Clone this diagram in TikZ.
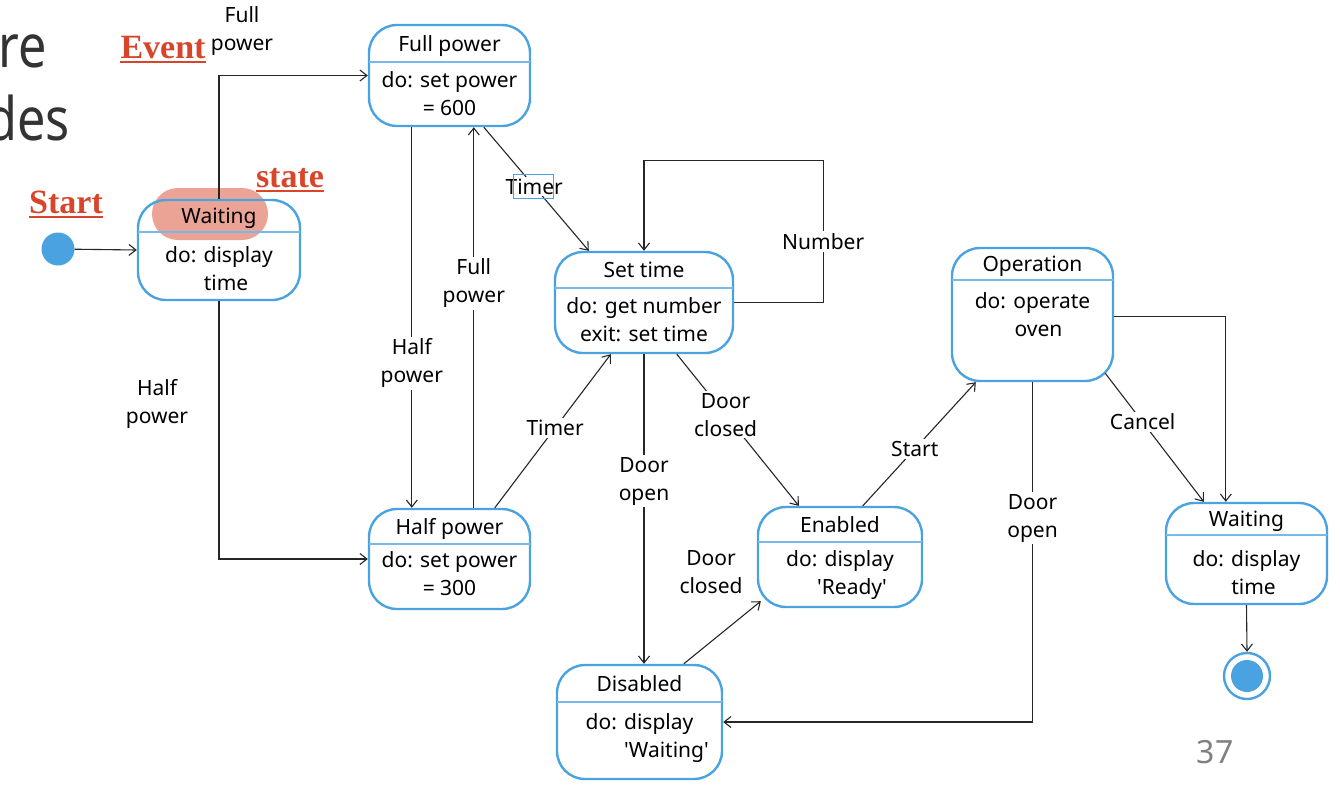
\documentclass[tikz,border=0pt]{standalone}
\usepackage{fontspec}
\setmainfont{Noto Sans}
\newfontfamily\serifb{Liberation Serif}
\newfontfamily\slidefont{Noto Sans}[FakeStretch=0.84]
\usetikzlibrary{arrows.meta}
\definecolor{sblue}{HTML}{4AA3E0}
\definecolor{sred}{HTML}{D9452B}
\definecolor{hl}{HTML}{EBA396}
\newcommand\umlstate[9]{%
 \node[sbox, minimum width={(#4-#2)*1pt}, minimum height={(#5-#3)*1pt}] (#1) at ({(#2+#4)/2},{(#3+#5)/2}) {};
 \draw[sdiv] (#2,#6) -- (#4,#6);
 \node[ttl] (#1t) at ({(#2+#4)/2},{(#3+#6)/2}) {#7};
 \node[body] (#1b) at ({(#2+#4)/2},#8) {#9};
}
\begin{document}
\begin{tikzpicture}[x=1pt,y=-1pt,
  every node/.style={font=\fontsize{21}{28}\selectfont, inner sep=0pt},
  sbox/.style={draw=sblue, line width=2.4pt, rounded corners=28pt, fill=none},
  sdiv/.style={draw=sblue!75, line width=1.4pt},
  ttl/.style={text height=19pt, text depth=4pt},
  body/.style={align=center},
  conn/.style={draw=black!85, line width=1.1pt, -{Straight Barb[length=7pt,width=11pt]}},
  lbl/.style={fill=white, align=center, inner sep=2pt},
  redlbl/.style={font=\serifb\bfseries\fontsize{34}{34}\selectfont, text=sred, anchor=base},
  redline/.style={draw=sred, line width=2.4pt},
  slide/.style={font=\slidefont\fontsize{60}{60}\selectfont, text=black!80, anchor=base east}]
\useasboundingbox (0,0) rectangle (1340,788);
% slide text
\node[slide] (sre) at (47,67) {re};
\node[slide] (sdes) at (70,140) {des};
\node[font=\fontsize{32}{32}\selectfont, text=black!50] (pnum) at (1215,752) {37};
% highlight
\fill[hl, rounded corners=26pt] (152,188) rectangle (268,240);
% states
\umlstate{wa}{138}{200}{300}{300}{232}{Waiting}{269}{do: display\\\hspace*{14pt}time}
\umlstate{fp}{369}{25}{530}{126}{62}{Full power}{94}{do: set power\\= 600}
\umlstate{st}{555}{252}{733}{353}{288}{Set time}{320}{do: get number\\exit: set time}
\umlstate{hp}{369}{509}{530}{609}{544}{Half power}{574}{do: set power\\= 300}
\umlstate{op}{952}{248}{1113}{381}{280}{Operation}{315}{do: operate\\\hspace*{12pt}oven}
\umlstate{en}{758}{507}{922}{607}{542}{Enabled}{575}{do: display\\\hspace*{24pt}\textquotesingle Ready\textquotesingle}
\umlstate{di}{557}{665}{722}{779}{702}{Disabled}{738}{do: display\\\hspace*{54pt}\textquotesingle Waiting\textquotesingle}
\umlstate{wb}{1166}{503}{1327}{604}{535}{Waiting}{573}{do: display\\\hspace*{14pt}time}
% start and end
\node[circle, fill=sblue, minimum size=33pt] (start) at (58,249) {};
\node[circle, draw=sblue, line width=2.4pt, minimum size=46pt] (end) at (1247,676) {};
\node[circle, fill=sblue, minimum size=32pt] (endin) at (end.center) {};
% connectors
\draw[conn] (start) -- (wa.west);
\draw[conn] (wa.north) |- (fp.west);
\node[align=center] (lfp1) at (242,31) {Full\\power};
\draw[conn] (wa.south) |- (hp.west);
\node[align=center] (lhp1) at (157,404) {Half\\power};
\draw[conn] ([xshift=44pt]fp.south west) -- node[lbl,pos=0.62] (lhp2) {Half\\power} ([xshift=44pt]hp.north west);
\draw[conn] ([xshift=106pt]hp.north west) -- node[lbl,pos=0.59] (lfp2) {Full\\power} ([xshift=106pt]fp.south west);
\draw[conn] ([xshift=116pt]fp.south west) -- node[lbl,pos=0.48] (ltm1) {Timer} ([xshift=35pt]st.north west);
\draw[sblue, line width=1pt] ([xshift=-21pt,yshift=12pt]ltm1.center) rectangle ([xshift=19pt,yshift=-12pt]ltm1.center);
\draw[conn] ([xshift=127pt]hp.north west) -- node[lbl,pos=0.52] (ltm2) {Timer} ([xshift=57pt]st.south west);
\draw[conn] (st.east) -- ++(89,0) -- node[lbl,pos=0.43] (lnum) {Number} ++(0,-142) -| (st.north);
\draw[conn] (st.south) -- node[lbl,pos=0.41] (ldo1) {Door\\open} (st.south |- di.north);
\draw[conn] ([xshift=123pt]st.south west) -- node[lbl,pos=0.4] (ldc1) {Door\\closed} ([xshift=42pt]en.north west);
\draw[conn] ([xshift=128pt]di.north west) -- ([xshift=4pt,yshift=7pt]en.south west);
\node[align=center] (ldc2) at (711,572) {Door\\closed};
\draw[conn] ([xshift=106pt]en.north west) -- node[lbl,pos=0.46] (lsta) {Start} ([xshift=25pt]op.south west);
\draw[conn] (op.south) |- node[lbl,pos=0.2] (ldo2) {Door\\open} (di.east);
\draw[conn] ([xshift=-9pt,yshift=9pt]op.south east) -- node[lbl,pos=0.38] (lcan) {Cancel} ([xshift=39pt]wb.north west);
\draw[conn] ([yshift=-2pt]op.east) -| ([xshift=61pt]wb.north west);
\draw[conn] (wb.south) -- (end.north);
% red annotations
\node[redlbl] (rev) at (163,58) {Event};
\draw[redline] ([yshift=-4pt]rev.base west) -- ([yshift=-4pt]rev.base east);
\node[redlbl] (rst) at (66,213) {Start};
\draw[redline] ([yshift=-4pt]rst.base west) -- ([yshift=-4pt]rst.base east);
\node[redlbl] (rsa) at (290,187) {state};
\draw[redline] ([yshift=-4pt]rsa.base west) -- ([yshift=-4pt]rsa.base east);
\end{tikzpicture}
\end{document}
